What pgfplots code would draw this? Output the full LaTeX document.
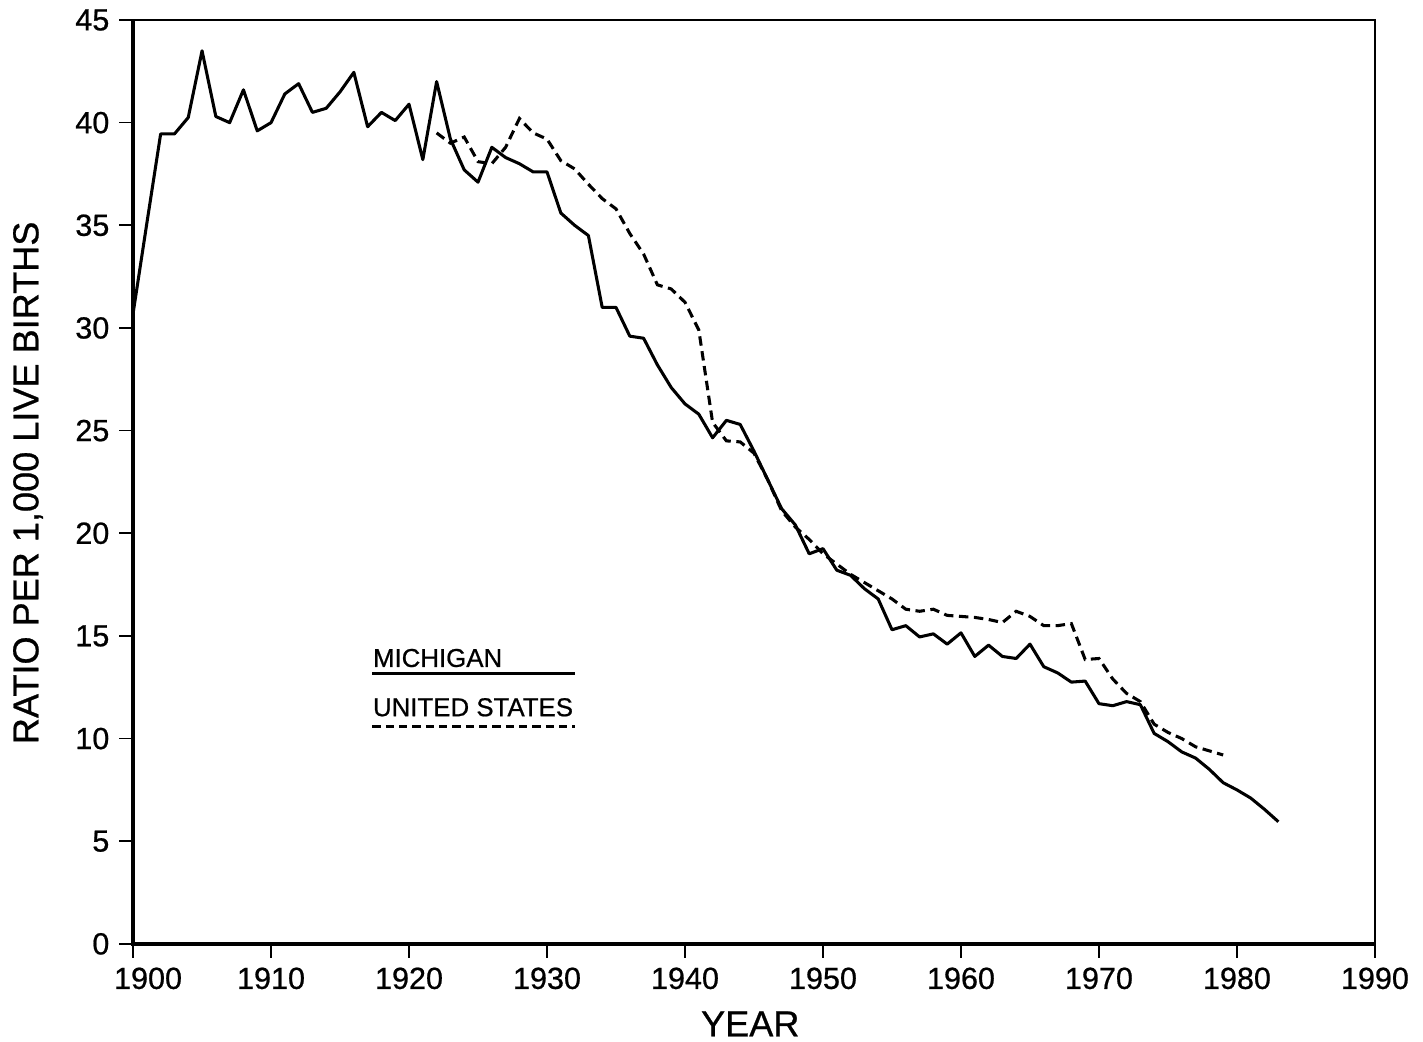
\documentclass[border=0pt]{standalone}
\usepackage{fontspec}
\setmainfont{Liberation Sans}[FakeBold=0.7]
\usepackage{pgfplots}
\pgfplotsset{compat=1.18}
\usetikzlibrary{calc}
\begin{document}
\begin{tikzpicture}
\begin{axis}[
  scale only axis,
  width=447.1pt, height=332.6pt,
  xmin=1900, xmax=1990, ymin=0, ymax=45,
  xtick={1910,1920,...,1990}, ytick={0,5,...,45},
  extra x ticks={1900},
  extra x tick style={xticklabel style={xshift=5.4pt}},
  tick align=outside, xtick pos=bottom, ytick pos=left,
  major tick length=5pt,
  tick style={line width=0.6pt, black},
  axis line style={line width=0.9pt},
  /pgf/number format/assume math mode=true,
  /pgf/number format/1000 sep={},
  ticklabel style={font=\fontsize{11}{13}\selectfont},
  xlabel={YEAR}, ylabel={RATIO PER 1,000 LIVE BIRTHS},
  xlabel style={font=\fontsize{13}{15}\selectfont, at={(rel axis cs:0.497,0)}, anchor=center, yshift=-28.8pt},
  ylabel style={font=\fontsize{13}{15}\selectfont, at={(rel axis cs:0,0.499)}, anchor=center, yshift=37.8pt},
  clip=false,
]
\addplot[black, line width=1.1pt, line join=round] coordinates {
(1900,30.7)(1901,35.1)(1902,39.45)(1903,39.45)(1904,40.25)(1905,43.5)(1906,40.3)(1907,40.0)(1908,41.6)(1909,39.6)
(1910,40.0)(1911,41.4)(1912,41.9)(1913,40.5)(1914,40.7)(1915,41.5)(1916,42.45)(1917,39.8)(1918,40.5)(1919,40.1)
(1920,40.9)(1921,38.2)(1922,42.0)(1923,39.2)(1924,37.7)(1925,37.1)(1926,38.8)(1927,38.3)(1928,38.0)(1929,37.6)
(1930,37.6)(1931,35.6)(1932,35.0)(1933,34.5)(1934,31.0)(1935,31.0)(1936,29.6)(1937,29.5)(1938,28.2)(1939,27.1)
(1940,26.3)(1941,25.8)(1942,24.65)(1943,25.5)(1944,25.3)(1945,24.0)(1946,22.6)(1947,21.2)(1948,20.4)(1949,19.0)
(1950,19.25)(1951,18.2)(1952,17.95)(1953,17.3)(1954,16.8)(1955,15.3)(1956,15.5)(1957,14.95)(1958,15.1)(1959,14.6)
(1960,15.15)(1961,14.0)(1962,14.55)(1963,14.0)(1964,13.9)(1965,14.6)(1966,13.5)(1967,13.2)(1968,12.75)(1969,12.8)
(1970,11.7)(1971,11.6)(1972,11.8)(1973,11.65)(1974,10.25)(1975,9.85)(1976,9.35)(1977,9.05)(1978,8.5)(1979,7.85)
(1980,7.5)(1981,7.1)(1982,6.55)(1983,5.95)
};
\addplot[black, line width=1.1pt, dash pattern=on 3.4pt off 2pt] coordinates {
(1922,39.5)(1923,39.0)(1924,39.3)(1925,38.1)(1926,38.0)(1927,38.8)(1928,40.2)(1929,39.5)
(1930,39.2)(1931,38.15)(1932,37.75)(1933,37.0)(1934,36.3)(1935,35.8)(1936,34.6)(1937,33.6)(1938,32.1)(1939,31.9)
(1940,31.25)(1941,29.9)(1942,25.4)(1943,24.5)(1944,24.45)(1945,23.9)(1946,22.6)(1947,21.1)(1948,20.3)(1949,19.7)
(1950,19.0)(1951,18.5)(1952,18.0)(1953,17.6)(1954,17.2)(1955,16.8)(1956,16.3)(1957,16.2)(1958,16.3)(1959,16.0)
(1960,15.95)(1961,15.9)(1962,15.8)(1963,15.65)(1964,16.2)(1965,15.95)(1966,15.5)(1967,15.5)(1968,15.6)(1969,13.85)
(1970,13.9)(1971,12.9)(1972,12.2)(1973,11.8)(1974,10.7)(1975,10.3)(1976,10.0)(1977,9.6)(1978,9.4)(1979,9.2)
};
% legend
\node[anchor=base west, inner sep=0pt, font=\fontsize{9.3}{11}\selectfont] at (axis cs:1917.35,13.49) {MICHIGAN};
\draw[black, line width=1.1pt] (axis cs:1917.35,13.17) -- (axis cs:1932.0,13.17);
\node[anchor=base west, inner sep=0pt, font=\fontsize{9.3}{11}\selectfont] at (axis cs:1917.35,11.09) {UNITED STATES};
\draw[black, line width=1.1pt, dash pattern=on 2.9pt off 1.9pt] (axis cs:1917.35,10.57) -- (axis cs:1932.0,10.57);
% thicker left and bottom frame
\draw[line width=1.5pt] (rel axis cs:0,1) -- (rel axis cs:0,0) -- (rel axis cs:1,0);
\coordinate (sw) at (rel axis cs:0,0);
\coordinate (ne) at (rel axis cs:1,1);
\end{axis}
\pgfresetboundingbox
\path[use as bounding box] ($(sw)+(-47.9pt,-35.3pt)$) rectangle ($(ne)+(17.3pt,7.2pt)$);
\end{tikzpicture}
\end{document}
